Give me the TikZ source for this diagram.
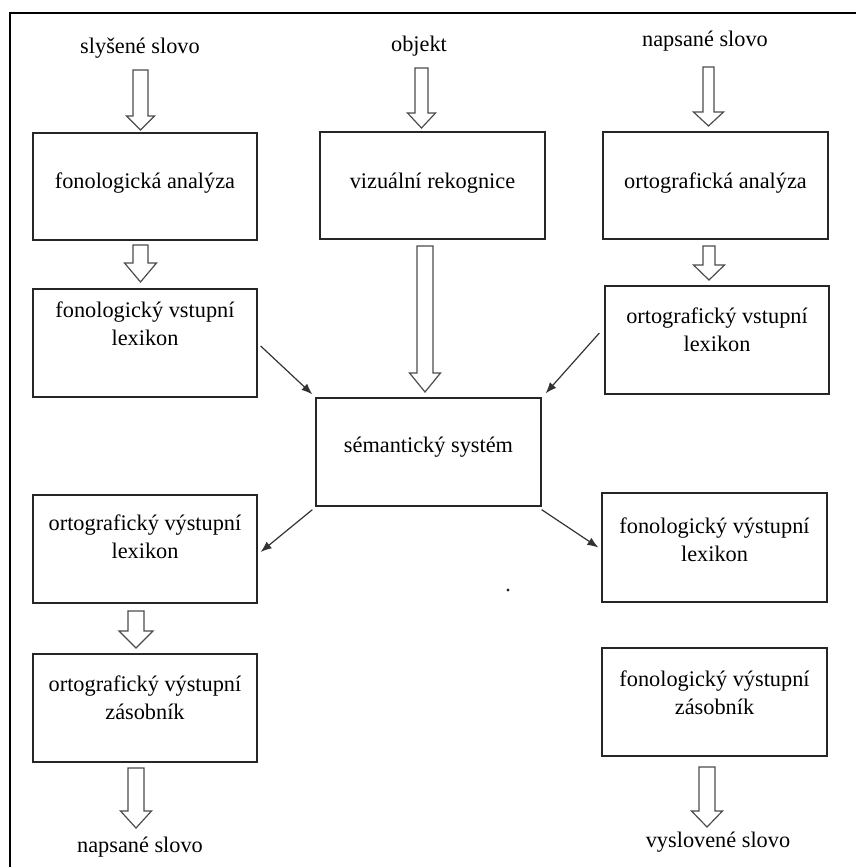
\documentclass[tikz,border=0pt]{standalone}
\usepackage{fontspec}
\newfontfamily\tnr{Liberation Serif}
\usetikzlibrary{arrows.meta,calc}
\tikzset{
  box/.style={draw=black!85, line width=1.3pt, minimum width=224pt, minimum height=107pt, inner sep=0pt},
  txt/.style={align=center, text=black, font=\tnr\fontsize{22.3}{28}\selectfont, inner sep=0pt},
  barrow/.style={draw=black!70, line width=1.2pt, fill=white, line join=miter},
  tarrow/.style={draw=black!80, line width=1.2pt, -{Latex[length=11pt,width=8.5pt]}},
  frame/.style={draw=black, line width=2.5pt},
}
% start, tip, shaft half width, head half width, head length
\newcommand\blockarrow[5]{%
  \draw[barrow] ($(#1)+(-#3,0)$) -- ($(#1)+(#3,0)$) -- ($(#2)+(#3,-#5)$) -- ($(#2)+(#4,-#5)$)
    -- (#2) -- ($(#2)+(-#4,-#5)$) -- ($(#2)+(-#3,-#5)$) -- cycle;}
\begin{document}
\begin{tikzpicture}[x=1pt,y=-1pt]
\useasboundingbox (0,0) rectangle (856,867);
\draw[frame] (10,867) -- (10,13) -- (856,13);

% boxes
\node[box] (fa) at (145,186.5) {};
\node[txt] (fat) at (145,183) {fonologická analýza};
\node[box, minimum height=108pt] (fvl) at (145,343) {};
\node[txt] (fvlt) at (145,324) {fonologický vstupní\\lexikon};
\node[box, minimum width=225pt] (vr) at (432.5,185.5) {};
\node[txt] (vrt) at (432.5,183) {vizuální rekognice};
\node[box, minimum width=225pt, minimum height=108pt] (ss) at (428.5,452) {};
\node[txt] (sst) at (428.5,447) {sémantický systém};
\node[box, minimum width=225pt] (oa) at (715.5,185.5) {};
\node[txt] (oat) at (715.5,183) {ortografická analýza};
\node[box, minimum height=108pt] (ovl) at (717,340) {};
\node[txt] (ovlt) at (717,330) {ortografický vstupní\\lexikon};
\node[box, minimum height=108pt] (ovyl) at (145,549) {};
\node[txt] (ovylt) at (145,537) {ortografický výstupní\\lexikon};
\node[box, minimum height=108pt] (ovz) at (145,708) {};
\node[txt] (ovzt) at (145,698) {ortografický výstupní\\zásobník};
\node[box, minimum width=225pt, minimum height=109pt] (fvyl) at (714.5,547.5) {};
\node[txt] (fvylt) at (714.5,540) {fonologický výstupní\\lexikon};
\node[box, minimum width=225pt, minimum height=108pt] (fvz) at (714.5,702) {};
\node[txt] (fvzt) at (714.5,693) {fonologický výstupní\\zásobník};

% labels
\node[txt] (l1) at (140,48) {slyšené slovo};
\node[txt] (l2) at (419,46) {objekt};
\node[txt] (l3) at (705,41) {napsané slovo};
\node[txt] (l4) at (140,847) {napsané slovo};
\node[txt] (l5) at (718,842) {vyslovené slovo};

% block arrow end points
\coordinate (a1s) at (140.5,70);  \coordinate (a1t) at (140.5,130);
\coordinate (a2s) at (140.5,245); \coordinate (a2t) at (140.5,282);
\coordinate (a3s) at (421.5,68);  \coordinate (a3t) at (421.5,128);
\coordinate (a4s) at (425,246);   \coordinate (a4t) at (425,392);
\coordinate (a5s) at (708.5,67);  \coordinate (a5t) at (708.5,126);
\coordinate (a6s) at (709,246);   \coordinate (a6t) at (709,280);
\coordinate (a7s) at (136,611);   \coordinate (a7t) at (136,648);
\coordinate (a8s) at (136,768);   \coordinate (a8t) at (136,828);
\coordinate (a9s) at (707,767);   \coordinate (a9t) at (707,827);

\blockarrow{a1s}{a1t}{7.5}{14}{14}
\blockarrow{a2s}{a2t}{7.5}{16}{19}
\blockarrow{a3s}{a3t}{6.5}{14}{15}
\blockarrow{a4s}{a4t}{8}{15.5}{19}
\blockarrow{a5s}{a5t}{5.5}{15}{14}
\blockarrow{a6s}{a6t}{6}{15.5}{15}
\blockarrow{a7s}{a7t}{8}{17}{17}
\blockarrow{a8s}{a8t}{8}{15.5}{17}
\blockarrow{a9s}{a9t}{8}{15.5}{16}

% thin arrows
\draw[tarrow] ([shift={(3pt,-3pt)}]fvl.east) -- ([shift={(-3pt,3pt)}]ss.north west);
\draw[tarrow] ([shift={(-5pt,7pt)}]ovl.west) -- ([shift={(4pt,4pt)}]ss.north east);
\draw[tarrow] ([shift={(-3pt,-3pt)}]ss.south west) -- ([shift={(3pt,-3pt)}]ovyl.east);
\draw[tarrow] ([shift={(0pt,-3pt)}]ss.south east) -- ([shift={(-3pt,0pt)}]fvyl.west);

% stray dot
\fill[black!85] (508,590) circle (1.6pt);
\end{tikzpicture}
\end{document}
